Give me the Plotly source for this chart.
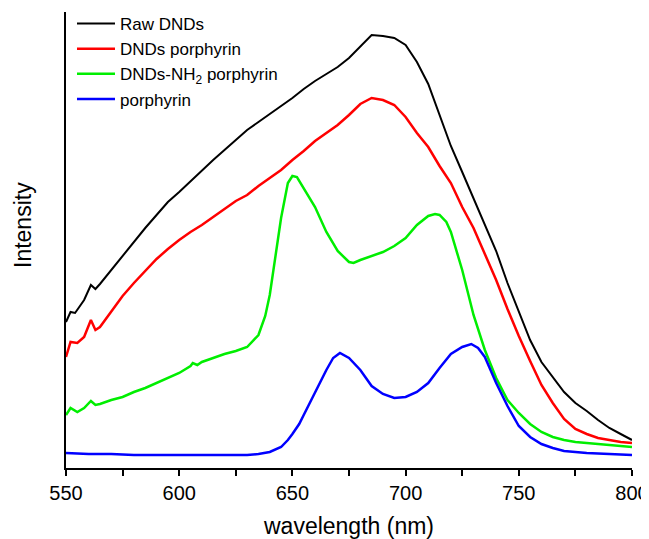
import plotly.graph_objects as go

# Series readings (wavelength in nm, intensity in arbitrary units)
raw_wl = [550, 552, 554, 558, 561, 563, 565, 570, 575, 580, 585, 590, 595, 600, 605, 610, 615, 620,
          625, 630, 635, 640, 645, 650, 655, 660, 665, 670, 675, 680, 685, 690, 695, 700, 705, 710,
          715, 720, 725, 730, 735, 740, 745, 750, 755, 760, 765, 770, 775, 780, 785, 790, 795, 800]
raw_int = [146, 156, 155, 168, 183, 179, 184, 198, 212, 227, 240, 253, 266, 276, 287, 298, 308, 318,
           328, 338, 346, 354, 362, 370, 379, 387, 394, 401, 410, 421, 433, 432, 430, 423, 406, 384,
           353, 322, 296, 270, 244, 217, 185, 157, 128, 106, 91, 76, 65, 57, 48, 40, 34, 28]

dnd_wl = [550, 552, 555, 558, 561, 563, 565, 570, 575, 580, 585, 590, 595, 600, 605, 610, 615, 620,
          625, 630, 635, 640, 645, 650, 655, 660, 665, 670, 675, 680, 685, 690, 695, 700, 705, 710,
          715, 720, 725, 730, 735, 740, 745, 750, 755, 760, 765, 770, 775, 780, 785, 790, 795, 800]
dnd_int = [111, 126, 125, 131, 148, 138, 141, 156, 172, 185, 197, 209, 219, 228, 236, 243, 251, 259,
           267, 273, 282, 290, 298, 308, 317, 327, 335, 343, 353, 364, 370, 368, 363, 351, 335, 321,
           302, 285, 261, 240, 214, 188, 159, 132, 107, 83, 65, 49, 39, 34, 30, 28, 26, 25]

nh2_wl = [550, 552, 555, 558, 561, 563, 565, 570, 575, 580, 585, 590, 595, 600, 605, 606, 608, 610,
          615, 620, 625, 630, 635, 638, 640, 642, 645, 648, 650, 652, 655, 660, 665, 670, 675, 677,
          680, 685, 690, 695, 700, 705, 710, 713, 715, 718, 720, 725, 730, 735, 740, 745, 750, 755,
          760, 765, 770, 775, 780, 790, 800]
nh2_int = [53, 60, 56, 60, 67, 63, 64, 68, 71, 76, 80, 85, 90, 95, 102, 105, 103, 106,
           110, 114, 117, 121, 133, 152, 173, 203, 250, 285, 292, 291, 280, 261, 236, 217, 206, 205,
           208, 212, 216, 222, 230, 243, 252, 254, 253, 246, 236, 198, 153, 118, 90, 68, 55, 44,
           36, 31, 28, 26, 25, 23, 21]

por_wl = [550, 560, 570, 580, 590, 600, 610, 620, 630, 635, 640, 645, 648, 650, 653, 655, 660, 665,
          668, 671, 675, 680, 685, 690, 695, 700, 705, 710, 715, 720, 725, 729, 732, 735, 740, 745,
          750, 755, 760, 765, 770, 780, 790, 800]
por_int = [15, 14, 14, 13, 13, 13, 13, 13, 13, 14, 16, 21, 28, 34, 44, 53, 76, 98,
           110, 115, 110, 98, 82, 74, 70, 71, 76, 85, 100, 114, 121, 124, 120, 111, 85, 62,
           42, 31, 24, 20, 17, 15, 14, 13]

x_ticks = [550, 600, 650, 700, 750, 800]

FONT = "Arial, Liberation Sans, sans-serif"

fig = go.Figure()
fig.add_trace(go.Scatter(x=raw_wl, y=raw_int, mode="lines", name="Raw DNDs",
                         line=dict(color="#000000", width=2)))
fig.add_trace(go.Scatter(x=dnd_wl, y=dnd_int, mode="lines", name="DNDs porphyrin",
                         line=dict(color="#ff0000", width=2.5)))
fig.add_trace(go.Scatter(x=nh2_wl, y=nh2_int, mode="lines", name="DNDs-NH<sub>2</sub> porphyrin",
                         line=dict(color="#00ee00", width=2.5)))
fig.add_trace(go.Scatter(x=por_wl, y=por_int, mode="lines", name="porphyrin",
                         line=dict(color="#0000ff", width=2.5)))

# the page body adds an 8px offset, so the figure is 8px smaller
fig.update_layout(
    width=641, height=531,
    margin=dict(l=58, r=17, t=4, b=71, autoexpand=False),
    paper_bgcolor="white", plot_bgcolor="white",
    font=dict(family=FONT, color="#000000"),
    showlegend=True,
    legend=dict(x=0.0106, y=1.013, xanchor="left", yanchor="top",
                bgcolor="rgba(0,0,0,0)", font=dict(size=17, family=FONT),
                tracegroupgap=0, itemwidth=38),
    xaxis=dict(range=[550, 800], tickvals=x_ticks, ticktext=[str(v) for v in x_ticks],
               showline=True, linecolor="black", linewidth=1.5, mirror=False,
               ticks="outside", ticklen=6, tickwidth=1.5, tickcolor="black",
               minor=dict(dtick=25, tick0=550, ticks="outside", ticklen=6, tickwidth=1.5, tickcolor="black"),
               showgrid=False, zeroline=False,
               tickfont=dict(size=20, family=FONT),
               title=dict(text="wavelength (nm)", font=dict(size=23, family=FONT), standoff=19)),
    yaxis=dict(range=[0, 456], showline=True, linecolor="black", linewidth=1.5,
               showticklabels=False, ticks="", showgrid=False, zeroline=False),
    annotations=[dict(text="Intensity", textangle=-90, xref="paper", yref="paper",
                      x=-43 / 566, y=(468 - 225) / 456, xanchor="center", yanchor="middle",
                      showarrow=False, font=dict(size=23, family=FONT))],
)

fig.write_html("out.html")
